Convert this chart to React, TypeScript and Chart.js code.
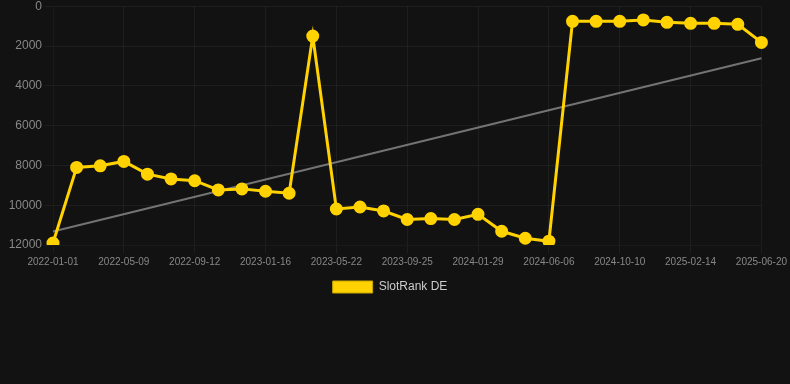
import React, { useEffect, useRef } from "react";
import { Chart, registerables } from "chart.js";

Chart.register(...registerables);

const labels: string[] = [
  "2022-01-01", "2022-02-12", "2022-03-26", "2022-05-09", "2022-06-20", "2022-08-01",
  "2022-09-12", "2022-10-24", "2022-12-05", "2023-01-16", "2023-02-27", "2023-04-10",
  "2023-05-22", "2023-07-03", "2023-08-14", "2023-09-25", "2023-11-06", "2023-12-18",
  "2024-01-29", "2024-03-11", "2024-04-22", "2024-06-06", "2024-07-18", "2024-08-29",
  "2024-10-10", "2024-11-21", "2025-01-02", "2025-02-14", "2025-03-28", "2025-05-09",
  "2025-06-20",
];

const slotRankDE: number[] = [
  11900, 8100, 8020, 7800, 8440, 8680, 8770, 9230, 9180, 9300, 9400, 1500,
  10190, 10090, 10290, 10720, 10670, 10720, 10460, 11310, 11660, 11810,
  760, 760, 760, 690, 810, 860, 860, 910, 1820,
];

const trendStart = 11320;
const trendEnd = 2620;

const yTicks: number[] = [0, 2000, 4000, 6000, 8000, 10000, 12000];

const YELLOW = "rgb(255, 210, 0)";

export default function App() {
  const ref = useRef<HTMLCanvasElement | null>(null);

  useEffect(() => {
    document.body.style.margin = "0";
    document.body.style.background = "#121212";
    if (!ref.current) return;
    const trend: (number | null)[] = labels.map(() => null);
    trend[0] = trendStart;
    trend[labels.length - 1] = trendEnd;

    const chart = new Chart(ref.current, {
      type: "line",
      data: {
        labels,
        datasets: [
          {
            label: "SlotRank DE",
            data: slotRankDE,
            borderColor: YELLOW,
            backgroundColor: YELLOW,
            borderWidth: 3,
            pointRadius: 5,
            pointHoverRadius: 5,
            pointBackgroundColor: YELLOW,
            pointBorderColor: YELLOW,
            tension: 0,
            order: 0,
          },
          {
            label: "trend",
            data: trend,
            borderColor: "rgba(140, 140, 140, 0.8)",
            backgroundColor: "rgba(140, 140, 140, 0.8)",
            borderWidth: 2,
            pointRadius: 0,
            spanGaps: true,
            order: 1,
          },
        ],
      },
      options: {
        animation: false,
        responsive: true,
        maintainAspectRatio: false,
        layout: { padding: { right: 10 } },
        plugins: {
          legend: {
            position: "bottom",
            labels: {
              color: "#cccccc",
              font: { size: 12 },
              boxWidth: 40,
              boxHeight: 12,
              generateLabels: () => [
                {
                  text: "SlotRank DE",
                  fillStyle: YELLOW,
                  strokeStyle: "rgb(200, 165, 0)",
                  lineWidth: 1,
                  hidden: false,
                  datasetIndex: 0,
                  fontColor: "#cccccc",
                },
              ],
            },
          },
          tooltip: { enabled: false },
        },
        scales: {
          x: {
            grid: { color: "rgba(255,255,255,0.05)" },
            ticks: {
              color: "#888888",
              font: { size: 10 },
              maxRotation: 0,
              autoSkip: false,
              callback: (_v, i) => (i % 3 === 0 ? labels[i] : null),
            },
          },
          y: {
            reverse: true,
            min: 0,
            max: 12000,
            grid: { color: "rgba(255,255,255,0.05)" },
            afterBuildTicks: (axis) => {
              axis.ticks = yTicks.map((v) => ({ value: v }));
            },
            afterFit: (axis) => {
              axis.width = 53;
            },
            ticks: {
              color: "#888888",
              font: { size: 12 },
              callback: (v) => String(v),
            },
          },
        },
      },
    });
    return () => chart.destroy();
  }, []);

  return (
    <div style={{ width: 790, height: 307, marginTop: -4, background: "#121212" }}>
      <canvas ref={ref} />
    </div>
  );
}
